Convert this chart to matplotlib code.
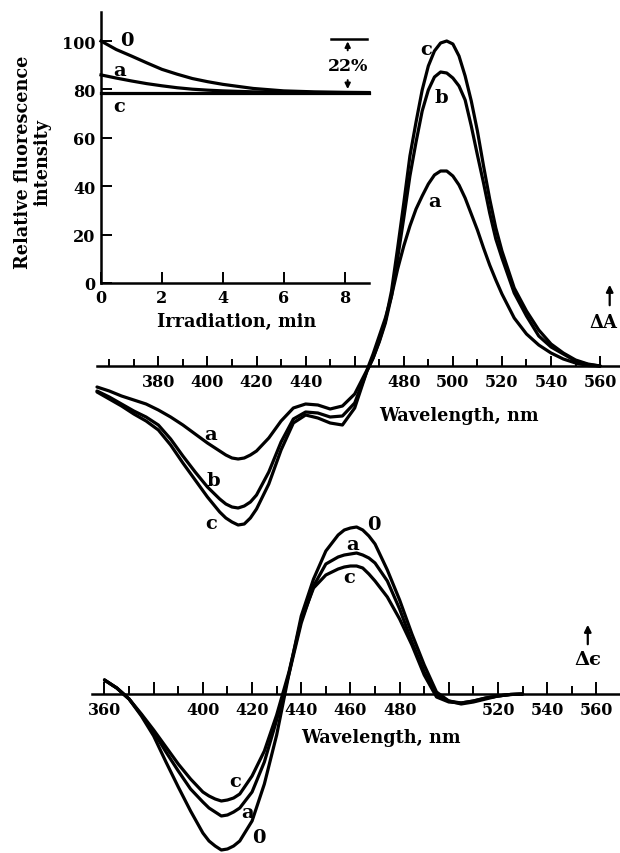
import matplotlib
matplotlib.use("Agg")
import matplotlib.pyplot as plt
from matplotlib.ticker import MultipleLocator, FixedLocator, FixedFormatter

plt.rcParams['font.family'] = ['DejaVu Serif', 'DejaVu Sans']
plt.rcParams['font.weight'] = 'bold'

# ---------------- inset: fluorescence vs irradiation ----------------
t_min = [0, 0.5, 1, 1.5, 2, 2.5, 3, 3.5, 4, 5, 6, 7, 8, 8.8]
fl_0 = [100, 96.5, 93.8, 91, 88.3, 86.3, 84.5, 83.2, 82.1, 80.4, 79.4, 79.0, 78.8, 78.7]
fl_a = [86, 84.7, 83.5, 82.4, 81.5, 80.7, 80.1, 79.7, 79.4, 79.0, 78.8, 78.7, 78.7, 78.7]
fl_c = [78.7] * 14
inset_xticks = [0, 2, 4, 6, 8]
inset_yticks = [0, 20, 40, 60, 80, 100]

# ---------------- middle: Delta A spectra (arbitrary units) ----------------
wl_mid = [355, 360, 365, 370, 375, 380, 385, 390, 395, 400, 405,
          407.5, 410, 412.5, 415, 417.5,
          420, 425, 430, 435, 440, 445, 450, 455, 460, 465,
          467.5, 470, 472.5, 475, 477.5, 480, 482.5, 485, 487.5, 490, 492.5,
          495, 497.5, 500, 502.5, 505, 507.5, 510, 512.5, 515, 517.5, 520,
          525, 530, 535, 540, 545, 550, 555, 560]
dA_a = [-21, -25, -30, -34, -38, -44, -51, -59, -68, -77, -85,
        -89, -92, -93, -92, -89,
        -85, -72, -55, -42, -38, -39, -43, -40, -28, -4,
        12, 30, 48, 70, 97, 120, 140, 157, 170, 182, 191,
        195, 195, 190, 181, 168, 152, 136, 118, 101, 86, 72,
        48, 32, 21, 13, 7, 3, 0.5, 0]
dA_b = [-25, -31, -38, -45, -51, -59, -73, -90, -106, -121, -133,
        -138, -141, -142, -140, -136,
        -129, -106, -76, -53, -46, -47, -51, -50, -37, -5,
        8, 24, 43, 70, 108, 148, 190, 224, 255, 276, 289,
        294, 293, 288, 280, 266, 240, 211, 183, 153, 127, 108,
        73, 50, 30, 19, 12, 5, 1.5, 0]
dA_c = [-26, -33, -40, -48, -55, -64, -79, -97, -114, -131, -146,
        -152, -156, -159, -158, -152,
        -143, -118, -84, -57, -49, -52, -57, -59, -42, -5,
        8, 25, 45, 75, 118, 163, 210, 244, 276, 300, 315,
        323, 325, 322, 310, 290, 265, 235, 200, 167, 138, 115,
        78, 55, 36, 22, 13, 6, 2, 0]
mid_major = [380, 400, 420, 440, 460, 480, 500, 520, 540, 560]
mid_labels = ['380', '400', '420', '440', '', '480', '500', '520', '540', '560']

# ---------------- bottom: Delta epsilon (CD) spectra ----------------
wl_bot = [360, 365, 370, 375, 380, 385, 390, 395, 400,
          402.5, 405, 407.5, 410, 412.5, 415,
          420, 425, 430, 435, 440, 445, 450, 455,
          457.5, 460, 462.5, 465, 467.5,
          470, 475, 480, 485, 490, 495, 500, 505, 510, 515, 520, 525, 530]
de_0 = [14, 6, -5, -22, -42, -68, -93, -117, -139,
        -147, -152, -156, -155, -152, -147,
        -127, -90, -41, 20, 78, 115, 143, 159,
        164, 166, 167, 164, 158,
        150, 124, 94, 60, 29, 2, -7, -10, -8, -5, -2, -0.5, 0]
de_a = [14, 6, -5, -21, -38, -58, -77, -95, -108,
        -114, -118, -122, -121, -118, -114,
        -98, -68, -26, 20, 71, 108, 130, 137,
        139, 140, 141, 139, 136,
        131, 113, 85, 52, 22, -1, -7, -9, -7, -4, -2, -0.5, 0]
de_c = [14, 6, -5, -20, -36, -53, -70, -85, -98,
        -102, -105, -107, -106, -104, -100,
        -82, -57, -21, 22, 74, 106, 119, 125,
        127, 128, 128, 126, 120,
        113, 97, 75, 49, 19, -3, -8, -9, -7, -4, -2, -0.5, 0]
bot_major = [360, 380, 400, 420, 440, 460, 480, 500, 520, 540, 560]
bot_labels = ['360', '', '400', '420', '440', '460', '480', '', '520', '540', '560']

W, H = 620, 854
fig = plt.figure(figsize=(W / 100, H / 100), dpi=100)
fig.patch.set_facecolor('white')


def box(x0, y0, x1, y1):
    return [x0 / W, 1 - y1 / H, (x1 - x0) / W, (y1 - y0) / H]


LW = 2.3
TICKFS = 11.5
LABFS = 12.7
CURVEFS = 14

# ---- middle axes ----
axm = fig.add_axes(box(97, 20, 620, 545))
axm.set_facecolor('none')
axm.set_xlim(355, 568.1)
axm.set_ylim(-178, 347)
for c in (dA_a, dA_b, dA_c):
    axm.plot(wl_mid, c, color='black', lw=LW, solid_capstyle='round',
             solid_joinstyle='round', clip_on=False)
for s in ('top', 'left', 'right'):
    axm.spines[s].set_visible(False)
axm.spines['bottom'].set_position(('data', 0))
axm.spines['bottom'].set_linewidth(1.8)
axm.set_yticks([])
axm.xaxis.set_major_locator(FixedLocator(mid_major))
axm.xaxis.set_major_formatter(FixedFormatter(mid_labels))
axm.xaxis.set_minor_locator(MultipleLocator(10))
axm.tick_params(axis='x', which='major', direction='in', length=7.5, width=1.4,
                pad=5, labelsize=TICKFS)
axm.tick_params(axis='x', which='minor', direction='in', length=4.8, width=1.4)
for lab, x, y in (('a', 401.5, -68), ('b', 402.2, -114), ('c', 401.5, -157),
                  ('c', 489, 317), ('b', 495.2, 269), ('a', 492.6, 165)):
    axm.text(x, y, lab, fontsize=CURVEFS, ha='center', va='center')
axm.text(502.4, -49, 'Wavelength, nm', fontsize=LABFS, ha='center', va='center')
axm.annotate('', xy=(563.9, 84), xytext=(563.9, 58),
             arrowprops=dict(arrowstyle='-|>', color='black', lw=1.6,
                             mutation_scale=10), annotation_clip=False)
axm.text(567.2, 44, 'ΔA', fontsize=13, ha='right', va='center')

# ---- bottom axes ----
axb = fig.add_axes(box(91.7, 500, 620, 854))
axb.set_facecolor('none')
axb.set_xlim(354.8, 569.6)
axb.set_ylim(-159, 195)
for c in (de_0, de_a, de_c):
    axb.plot(wl_bot, c, color='black', lw=LW, solid_capstyle='round',
             solid_joinstyle='round', clip_on=False)
for s in ('top', 'left', 'right'):
    axb.spines[s].set_visible(False)
axb.spines['bottom'].set_position(('data', 0))
axb.spines['bottom'].set_linewidth(1.8)
axb.set_yticks([])
axb.xaxis.set_major_locator(FixedLocator(bot_major))
axb.xaxis.set_major_formatter(FixedFormatter(bot_labels))
axb.xaxis.set_minor_locator(MultipleLocator(10))
axb.tick_params(axis='x', which='major', direction='in', length=8.5, width=1.4,
                pad=5, labelsize=TICKFS)
axb.tick_params(axis='x', which='minor', direction='in', length=5.5, width=1.4)
for lab, x, y in (('0', 469.6, 170), ('a', 461, 150), ('c', 459.6, 117),
                  ('c', 413, -87), ('a', 418, -118), ('0', 422.8, -143)):
    axb.text(x, y, lab, fontsize=CURVEFS, ha='center', va='center')
axb.text(472.4, -43, 'Wavelength, nm', fontsize=LABFS, ha='center', va='center')
axb.annotate('', xy=(556.5, 72), xytext=(556.5, 47),
             arrowprops=dict(arrowstyle='-|>', color='black', lw=1.6,
                             mutation_scale=10), annotation_clip=False)
axb.text(556.5, 35, 'Δϵ', fontsize=14, ha='center', va='center')

# ---- inset axes ----
axi = fig.add_axes(box(101, 13, 369, 284))
axi.set_facecolor('none')
axi.set_xlim(0, 8.8)
axi.set_ylim(0, 112)
axi.plot(t_min, fl_0, color='black', lw=LW, clip_on=False)
axi.plot(t_min, fl_a, color='black', lw=LW, clip_on=False)
axi.plot(t_min, fl_c, color='black', lw=LW, clip_on=False)
axi.spines['top'].set_visible(False)
axi.spines['right'].set_visible(False)
axi.spines['left'].set_linewidth(1.8)
axi.spines['bottom'].set_linewidth(1.8)
axi.set_xticks(inset_xticks)
axi.set_yticks(inset_yticks)
axi.tick_params(direction='in', length=8, width=1.4, labelsize=11.5, pad=4)
axi.text(0.85, 100.5, '0', fontsize=CURVEFS, ha='center', va='center')
axi.text(0.6, 88, 'a', fontsize=CURVEFS, ha='center', va='center')
axi.text(0.6, 73, 'c', fontsize=CURVEFS, ha='center', va='center')
# 22% bracket
axi.plot([7.55, 8.75], [101, 101], color='black', lw=1.8, clip_on=False)
axi.annotate('', xy=(8.1, 101), xytext=(8.1, 95),
             arrowprops=dict(arrowstyle='-|>', color='black', lw=1.4,
                             mutation_scale=8), annotation_clip=False)
axi.annotate('', xy=(8.1, 79), xytext=(8.1, 85),
             arrowprops=dict(arrowstyle='-|>', color='black', lw=1.4,
                             mutation_scale=8), annotation_clip=False)
axi.text(8.1, 90, '22%', fontsize=12.5, ha='center', va='center')

fig.text(33 / W, 1 - 162 / H, 'Relative fluorescence\nintensity', rotation=90,
         fontsize=LABFS, ha='center', va='center', linespacing=1.1,
         multialignment='center')
fig.text(237 / W, 1 - 322 / H, 'Irradiation, min', fontsize=LABFS,
         ha='center', va='center')

fig.savefig('out.png', dpi=100, facecolor='white')
